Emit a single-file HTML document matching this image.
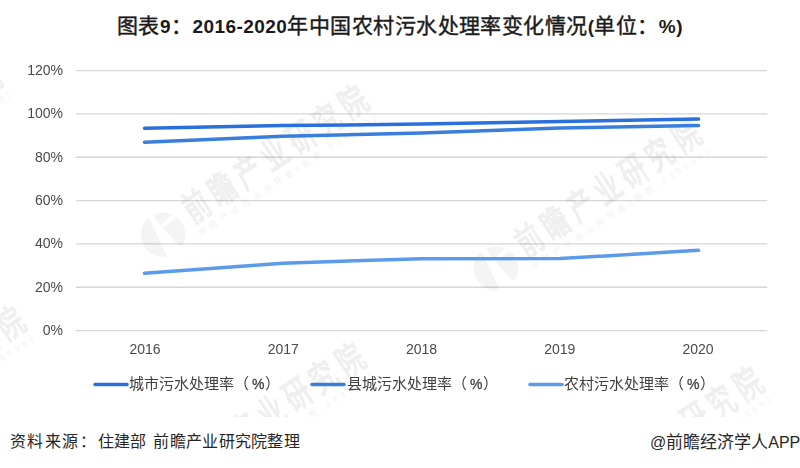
<!DOCTYPE html>
<html lang="zh-CN"><head><meta charset="utf-8">
<style>
html,body{margin:0;padding:0;background:#fff;}
body{width:800px;height:468px;position:relative;overflow:hidden;font-family:"Liberation Sans",sans-serif;}
.t{position:absolute;white-space:nowrap;line-height:1;}
#title{left:0;width:800px;top:15px;text-align:center;font-size:21px;font-weight:500;color:#1a1a1a;-webkit-text-stroke:0.4px #1a1a1a;letter-spacing:0.45px;}
.la{font-size:19px;font-weight:bold;-webkit-text-stroke:0;}
.yl{right:737px;font-size:14px;color:#4a4a4a;}
.xl{font-size:14px;color:#4a4a4a;width:80px;text-align:center;}
.lg{font-size:15px;color:#404040;}
.pc{font-size:14px;margin:0 0.2px 0 3px;-webkit-text-stroke:0.3px #404040;}
.ft{font-size:17px;color:#262626;top:434px;}
svg{position:absolute;left:0;top:0;}
</style></head><body>
<svg width="800" height="468" viewBox="0 0 800 468">
  <defs>
    <clipPath id="cp"><rect x="0" y="0" width="800" height="417"/></clipPath>
    <mask id="lm" maskUnits="userSpaceOnUse" x="-30" y="-30" width="60" height="60">
      <circle r="22.4" fill="#fff"/>
      <path d="M-16,-20 L-12,-23 L-3,-9 L11,-22 L14,-18 L0,-6.5 L15,10.5 L30,17 L30,30 L6,30 L4.5,23 L-7.5,-2.5 Z" fill="#000"/>
    </mask>
    <g id="wm">
      <circle r="22.4" mask="url(#lm)" fill-opacity="0.7"/>
      <g transform="rotate(-33.5)">
        <text x="43.9" y="7.8" font-size="36" stroke="#000" stroke-width="1.6" letter-spacing="8.8" transform="scale(0.7,1)">前瞻产业研究院</text>
        <text x="30" y="22.4" font-size="8.5" letter-spacing="4">中国产业咨询领导者(股票:839599)</text>
      </g>
    </g>
  </defs>
  <g stroke="#d6d6d6" stroke-width="1.4">
    <line x1="75.9" y1="70.6" x2="767.2" y2="70.6"/>
    <line x1="75.9" y1="113.9" x2="767.2" y2="113.9"/>
    <line x1="75.9" y1="157.3" x2="767.2" y2="157.3"/>
    <line x1="75.9" y1="200.6" x2="767.2" y2="200.6"/>
    <line x1="75.9" y1="243.9" x2="767.2" y2="243.9"/>
    <line x1="75.9" y1="287.3" x2="767.2" y2="287.3"/>
    <line x1="75.9" y1="330.6" x2="767.2" y2="330.6"/>
  </g>
  <g clip-path="url(#cp)" fill="#000" opacity="0.065">
    <use href="#wm" transform="translate(-203.8,210.7)"/>
    <use href="#wm" transform="translate(163.2,234.6)"/>
    <use href="#wm" transform="translate(496,268.5)"/>
    <use href="#wm" transform="translate(-180,455.5)"/>
    <use href="#wm" transform="translate(160,492)"/>
    <use href="#wm" transform="translate(558,516.5)"/>
  </g>
  <g fill="none" stroke-width="3.5" stroke-linecap="round" stroke-linejoin="round">
    <polyline stroke="#2a6fdc" points="144.5,128.25 283,125.6 421.5,124.1 560,121.5 698.5,119.1"/>
    <polyline stroke="#3a7edd" points="144.5,142.25 283,136.3 421.5,132.9 560,128.1 698.5,125.6"/>
    <polyline stroke="#5c9aea" points="144.5,273.3 283,263.2 421.5,258.7 560,258.6 698.5,250.3"/>
  </g>
  <g stroke-width="3.5" stroke-linecap="round">
    <line x1="95" y1="384.4" x2="127" y2="384.4" stroke="#2a6fdc"/>
    <line x1="312" y1="384.4" x2="344" y2="384.4" stroke="#3a7edd"/>
    <line x1="530" y1="384.4" x2="562" y2="384.4" stroke="#5c9aea"/>
  </g>
</svg>
<div id="title" class="t">图表<span class="la">9</span>：<span class="la">2016-2020</span>年中国农村污水处理率变化情况<span class="la">(</span>单位：<span class="la">%)</span></div>
<div class="t yl" style="top:63px">120%</div>
<div class="t yl" style="top:106px">100%</div>
<div class="t yl" style="top:150px">80%</div>
<div class="t yl" style="top:193px">60%</div>
<div class="t yl" style="top:236px">40%</div>
<div class="t yl" style="top:280px">20%</div>
<div class="t yl" style="top:323px">0%</div>
<div class="t xl" style="left:105px;top:342px">2016</div>
<div class="t xl" style="left:243.3px;top:342px">2017</div>
<div class="t xl" style="left:381.5px;top:342px">2018</div>
<div class="t xl" style="left:519.8px;top:342px">2019</div>
<div class="t xl" style="left:658px;top:342px">2020</div>
<div class="t lg" style="left:129px;top:376px">城市污水处理率（<span class="pc">%</span>）</div>
<div class="t lg" style="left:347px;top:376px">县城污水处理率（<span class="pc">%</span>）</div>
<div class="t lg" style="left:564px;top:376px">农村污水处理率（<span class="pc">%</span>）</div>
<div class="t ft" style="left:9.5px;font-size:16px;letter-spacing:0.3px"><span style="letter-spacing:1.6px">资料来源：</span>住建部<span style="letter-spacing:2.5px"> </span>前瞻产业研究院整理</div>
<div class="t ft" style="left:650px"><span style="font-size:16px">@</span>前瞻经济学人<span style="font-size:16px">APP</span></div>
</body></html>
